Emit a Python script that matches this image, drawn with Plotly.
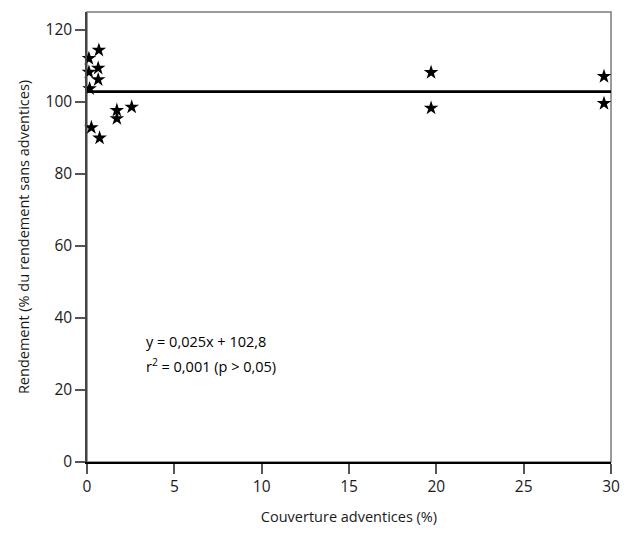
import plotly.graph_objects as go

# Data
cover = [0.68, 0.11, 0.64, 0.11, 0.64, 0.15, 1.71, 2.56, 1.71, 0.25, 0.72,
         19.7, 19.7, 29.6, 29.6]
yield_pct = [114.4, 112.1, 109.4, 108.3, 106.2, 103.7, 97.7, 98.6, 95.4, 92.9, 90.0,
             108.2, 98.3, 107.1, 99.6]
fit_x = [0, 30]
fit_y = [102.9, 102.9]
x_ticks = [0, 5, 10, 15, 20, 25, 30]
y_ticks = [0, 20, 40, 60, 80, 100, 120]
eq_line1 = "y = 0,025x + 102,8"
eq_line2 = "r<sup>2</sup> = 0,001 (p > 0,05)"

FONT = "Open Sans, Noto Sans, sans-serif"

fig = go.Figure()
fig.add_trace(go.Scatter(x=fit_x, y=fit_y, mode="lines",
                         line=dict(color="black", width=2.8),
                         showlegend=False, hoverinfo="skip", cliponaxis=False))
fig.add_trace(go.Scatter(x=cover, y=yield_pct, mode="markers",
                         marker=dict(symbol="star", size=11, color="black",
                                     line=dict(width=0)),
                         showlegend=False, cliponaxis=False))

fig.add_annotation(x=3.25, y=33.5, text=eq_line1, showarrow=False,
                   xanchor="left", yanchor="middle", align="left",
                   font=dict(family=FONT, size=14.5, color="black"))
fig.add_annotation(x=3.25, y=26.8, text=eq_line2, showarrow=False,
                   xanchor="left", yanchor="middle", align="left",
                   font=dict(family=FONT, size=14.5, color="black"))

# grey frame (top & right)
fig.add_shape(type="rect", xref="paper", yref="paper", x0=0, y0=0, x1=1, y1=1,
              line=dict(color="#7a7a7a", width=1.5), layer="below")

fig.update_layout(
    width=630, height=540,
    margin=dict(l=87, r=10, t=12, b=78),
    plot_bgcolor="white", paper_bgcolor="white",
    font=dict(family=FONT, size=15, color="#1a1a1a"),
    xaxis=dict(range=[0, 30], tickvals=x_ticks, ticks="outside", ticklen=10,
               tickcolor="#555", tickwidth=1.5, showgrid=False, zeroline=False,
               showline=True, linecolor="black", linewidth=1.5,
               title=dict(text="Couverture adventices (%)", standoff=16,
                          font=dict(size=14.5)),
               tickfont=dict(size=15.5)),
    yaxis=dict(range=[0, 125], tickvals=y_ticks, ticks="outside", ticklen=10,
               tickcolor="#555", tickwidth=1.5, showgrid=False, zeroline=False,
               showline=True, linecolor="#444", linewidth=1.5,
               title=dict(text="Rendement (% du rendement sans adventices)",
                          standoff=12, font=dict(size=14.5)),
               tickfont=dict(size=15.5)),
)

fig.write_html("out.html", config={"displayModeBar": False},
               post_script="document.body.style.margin='0';")
